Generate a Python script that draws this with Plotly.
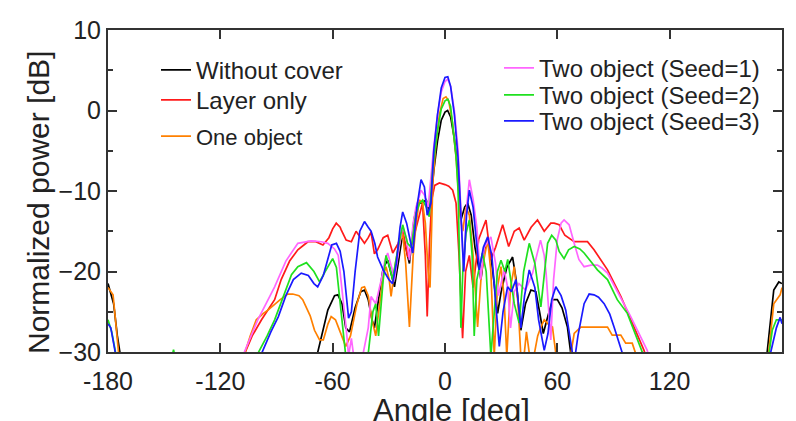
import plotly.graph_objects as go

# ---------------- data (angle [deg], normalized power [dB]) ----------------
without_cover_angle = [-180, -177, -175, -173,
    -70, -68, -65, -62.6, -59, -57.2, -55, -53, -51, -48, -45, -43, -41, -39, -37.7, -35, -33,
    -30.6, -29, -27, -25, -22.6, -20.5, -19, -16.5, -14.6, -12.5, -10, -8.5, -7.5, -6, -4, -2,
    0, 1.4, 3, 5, 7, 8.5, 10.5, 12.1, 14, 16, 19.2, 21, 22.8, 25, 28.1, 30, 31.6, 33, 36.1, 38,
    40.5, 43, 45.9, 48.5, 50.5, 52.5, 55, 57.5, 60, 62.5, 65.4, 67.2, 69,
    170, 172, 174, 175.6, 178.3, 180]
without_cover_db = [-21.5, -24, -28, -31,
    -32, -30, -27, -24.8, -23, -22.9, -24, -27, -27.5, -24.5, -22.5, -22.3, -23.5, -26, -27, -23, -19.5,
    -18.6, -20, -21.9, -19, -15.3, -17.5, -19, -13.5, -11.5, -11.5, -11.1, -12.5, -11, -7.5, -3.8, -1.2,
    -0.2, 0, -0.8, -3.5, -7.8, -13.6, -12, -11.5, -13, -17, -21, -17.5, -16.1, -19, -25.2, -22.5, -21, -19.5, -18.2, -21,
    -27.3, -24, -22.3, -22.5, -25, -27.7, -25.5, -23.5, -23.5, -24.5, -26.9, -30.2, -32,
    -32, -30.2, -26, -22.3, -21.3, -21.5]

layer_only_angle = [-110, -107, -103, -98, -91, -87.5, -83, -78.6, -73.2, -69, -65.2, -62, -60, -58.1,
    -56, -55.5, -52.8, -50, -47.5, -45, -43, -41, -39.5, -37.7, -36, -33, -30.6, -27.9, -25, -22.6,
    -19.9, -17, -14, -12, -10.5, -9.5, -8.2, -7, -5.5, -3, 0, 2, 4.1, 5.9, 7.5, 9.4, 11, 13, 15, 18,
    21.9, 24.5, 27, 30.8, 34, 37, 39.6, 42.3, 46, 49.4, 53, 56.5, 58.3, 61, 64, 69, 73, 76.1, 79.6,
    86.8, 93.9, 101, 106.3, 108]
layer_only_db = [-33, -30.2, -28, -26, -23.5, -21, -18.7, -17.3, -16.3, -16.3, -16.7, -15.8, -14.7, -14.0,
    -14.5, -14.8, -16.1, -16.3, -15, -15.8, -16.5, -15.8, -15.1, -17.8, -17.3, -15.8, -15.5, -17.7, -16.5, -14.8,
    -18.2, -16, -13.2, -11.5, -18, -25.6, -16, -11, -9.3, -9.0, -9.2, -9.4, -9.9, -11.5, -18, -28.3, -20, -18, -22, -16,
    -13.6, -18.5, -17, -14.2, -16.9, -15, -14.6, -16.1, -14.5, -13.6, -15, -14.0, -14, -14.2, -15.5, -16.3, -16.3, -16.3, -17.3,
    -19.8, -23.1, -26.9, -29.8, -31]

one_object_angle = [-180, -177.3, -176, -174,
    -109, -107, -104, -100.8, -97, -94.6, -88, -84, -81.3, -78, -76, -72, -69.7, -67, -65, -62.5,
    -60.8, -58.5, -56, -53, -50.5, -47, -44.5, -43, -41, -39, -37, -35, -33, -31.5, -29.8, -28.8,
    -26.5, -24.5, -22.6, -21, -19, -17, -15.5, -13.7, -12, -10.5, -9, -8, -6.5, -5, -3, -1, 0.5,
    2, 4, 6, 8, 9.5, 11.2, 13, 15, 17.4, 19.5, 22.8, 24.5, 26.3, 28, 29.9, 31.5, 33, 35, 37, 39,
    40.5, 42, 43.5, 45.5, 47.5, 49.5, 51.2, 53, 55, 57.4, 59.2, 61, 65, 67, 69, 72.5, 86.8, 89.3,
    93.9, 96.5, 100, 101.9, 103,
    172, 174, 175.6, 179, 180]
one_object_db = [-22, -22.9, -26, -31,
    -32, -30.2, -28, -26, -25.2, -24.8, -23.5, -22.8, -22.8, -23, -23.5, -25.5, -27.3, -28.5, -28.5, -26.5,
    -25.6, -26, -27.5, -29.3, -28, -24, -22, -21.9, -23, -26, -28, -24, -20.5, -19.4, -21, -23.1,
    -19, -16.5, -15.3, -19, -26.9, -18, -14.2, -11.1, -11.5, -14, -20, -22, -9, -4.5, -0.5, 1.5, 1.7,
    1.2, -1.5, -6, -13, -15, -12, -13, -18, -26.9, -20, -16.1, -20, -30.5, -22, -19.4, -23, -30.5, -22, -19.4, -24,
    -30.5, -31, -27.5, -31, -30.5, -28, -26.9, -26, -26.5, -26.9, -30.2, -31, -31, -30.5, -27.7, -26.9, -26.9, -27.9,
    -27.9, -28.9, -28.9, -30.2, -31,
    -32, -27, -24, -22.9, -22]

seed1_angle = [-110, -107.5, -100, -91, -85, -78.6, -71.5, -66, -62.6, -59, -57, -55, -52.8, -51.5,
    -50, -48.5, -44, -41, -39.5, -37, -34, -32, -30.6, -28.5, -27, -24.5, -22.6, -20.5, -19, -17,
    -15.5, -12.8, -11, -9, -7.5, -6, -4, -2, 0, 1.5, 3, 5, 7, 8.5, 10, 11.5, 13, 15, 17, 19, 21,
    24.5, 27, 28.5, 31.6, 33.5, 35, 37, 39.5, 43, 46.8, 49, 51, 53, 54, 56.5, 58, 60, 62, 63.6,
    66.3, 69, 71.5, 74.3, 78, 81.4, 84, 86.8, 91, 95.6, 99.2, 102.8, 108, 110]
seed1_db = [-33, -30.2, -26, -21.9, -18.7, -16.5, -16.2, -16.3, -16.5, -17.2, -18, -22, -27, -30.5,
    -28.3, -31, -30.5, -27, -23.1, -24, -21, -18.5, -17.7, -19.5, -21, -17, -14.4, -16, -18.6, -14,
    -12, -9.9, -10.5, -12, -8, -4.5, -0.5, 2.3, 3.6, 3.9, 3, 0, -5, -12, -20, -12, -8.6, -11, -14.5, -21, -17,
    -15.7, -19, -23, -19.8, -22, -27, -22.5, -21.5, -22.3, -20.2, -18, -16.1, -18, -20.2, -28.5, -21, -16, -14, -13.6,
    -14.2, -16.5, -18.5, -19.4, -19.2, -19.2, -19.6, -20.2, -22, -24, -25.6, -27.3, -29.8, -31.5]

seed2_angle = [-180, -178, -176, -174,
    -147, -145, -143,
    -102, -100, -95, -91, -86, -82, -78.6, -74, -70, -67, -64, -60, -58, -56, -53, -48, -45, -41,
    -38.5, -37, -35.5, -33, -31.5, -29.5, -28, -25, -22.6, -20, -18, -15.5, -13.5, -11.9, -10,
    -8.4, -6.5, -4, -2, 0, 1.5, 3, 5.9, 7, 8, 8.5, 9.5, 11.2, 13, 14.5, 15.6, 17, 20, 22, 24.5,
    26.5, 28, 29.9, 32, 33.5, 37, 39.6, 42, 45, 48, 51.2, 54.8, 57, 59.2, 61, 63.6, 66, 69, 72,
    74.3, 78, 81.4, 86.8, 92, 97.4, 101, 105.4, 107,
    172, 174.8, 177, 180]
seed2_db = [-26, -27.5, -30, -32,
    -32, -29.7, -32,
    -32, -30.2, -28, -26, -23, -20.4, -19.4, -18.9, -20, -21.3, -20, -18.4, -19.5, -24, -30.5, -31, -30.5, -30.2,
    -25, -24, -28, -21, -18, -19.5, -21, -17, -14.2, -16.5, -17, -12.8, -11.5, -11.1, -12,
    -13.2, -7, -2.5, 0.2, 1.2, 1.4, 0.5, -5.7, -10, -20, -27, -20, -15.3, -13.6, -18, -28, -21, -17.7, -20, -30.5,
    -24, -20, -18.6, -20, -18.5, -24, -26.4, -20, -16.5, -19, -24.4, -16.5, -15.5, -16.1, -17.5, -18.4, -17.3, -16.9, -17.2,
    -17.7, -18.8, -19.8, -21, -23.5, -25.2, -27.3, -29.8, -31,
    -32, -27.3, -26, -26]

seed3_angle = [-180, -178.5, -176, -174,
    -100, -98, -93, -89, -85, -81, -76.8, -73, -70, -68, -65, -62.6, -60.5, -58, -56, -54, -51.5,
    -50, -48, -45.5, -43, -41, -39.5, -37.5, -36, -33, -30, -28, -26, -24, -22.6, -20.5, -17.2,
    -15, -12.8, -11, -9.5, -7.5, -6, -4, -2, 0, 1.5, 3, 5, 7, 8.5, 10, 11.5, 13, 15, 16.5, 18.3,
    20.5, 22.8, 25, 27, 29, 31, 33.4, 35.5, 37.9, 40.5, 42.5, 45, 48, 50, 53, 55, 57, 59.2, 62,
    64.5, 66.5, 68.1, 69.5, 71, 74.3, 77, 79.6, 82, 85, 88, 90.3, 94.8, 96,
    172, 175, 177, 179, 180]
seed3_db = [-26.5, -27, -30.2, -32,
    -32, -30.2, -27.5, -25.6, -23, -21, -20.2, -20.5, -21.5, -21.9, -20.5, -18.6, -16.7, -16.5, -17.5, -20, -25.8,
    -25, -20, -15, -13.8, -14.5, -15, -16.5, -18.2, -19.8, -21, -21.5, -19, -14.5, -12.6, -14, -17.7,
    -12, -8.6, -9.5, -13, -11.5, -5, -0.5, 2.8, 4.1, 4.2, 3, -0.5, -6, -13, -20, -13, -9.9, -12, -16, -19.8,
    -17, -15.7, -18, -24, -29.3, -25, -21.9, -22.5, -21, -27, -23, -19.8, -22, -26, -29.8, -27.7, -23.5, -21.9, -23,
    -24.8, -28, -30.2, -30.5, -28, -24, -22.8, -22.9, -23.2, -24, -25.3, -26.9, -30.2, -31.5,
    -32, -29, -27, -25.7, -26.5]

x_tick_vals = [-180, -120, -60, 0, 60, 120, 180]
x_tick_text = ["-180", "-120", "-60", "0", "60", "120", "180"]
y_tick_vals = [-30, -20, -10, 0, 10]
x_title = "Angle [deg]"
y_title = "Normalized power [dB]"

series = [
    ("Without cover", without_cover_angle, without_cover_db, "#000000"),
    ("Layer only", layer_only_angle, layer_only_db, "#ff1a1a"),
    ("One object", one_object_angle, one_object_db, "#ff8000"),
    ("Two object (Seed=1)", seed1_angle, seed1_db, "#ff66ff"),
    ("Two object (Seed=2)", seed2_angle, seed2_db, "#1fe01f"),
    ("Two object (Seed=3)", seed3_angle, seed3_db, "#1a1aff"),
]

# The page body has an 8px margin, so the figure is drawn 8px in from the window corner.
OFF = 8
W, H = 796 - OFF, 421 - OFF
# plot area in window pixels
PLOT_L, PLOT_R, PLOT_T, PLOT_B = 108, 782, 30, 352
PW, PH = PLOT_R - PLOT_L, PLOT_B - PLOT_T
# legend entries: (left edge px, row-centre px, font size), window pixels
leg_place = [(156, 72, 24), (156, 102, 24), (156, 137, 22),
             (499, 70, 24), (499, 97, 24), (499, 123, 24)]
FONT = "Liberation Sans, Arial, sans-serif"

fig = go.Figure()
layout_legends = {}
for i, ((name, xs, ys, col), (lx, ly, fs)) in enumerate(zip(series, leg_place)):
    key = "legend" if i == 0 else f"legend{i + 1}"
    fig.add_trace(go.Scatter(x=xs, y=ys, mode="lines", name=name, showlegend=True,
                             line=dict(color=col, width=1.7), legend=key))
    top = ly - 1.3 * fs + 7
    layout_legends[key] = dict(
        x=(lx - PLOT_L) / PW, y=(PLOT_B - top) / PH,
        xanchor="left", yanchor="top", bgcolor="rgba(0,0,0,0)", borderwidth=0,
        font=dict(family=FONT, size=fs, color="#222"))

fig.update_layout(
    width=W, height=H, showlegend=True,
    margin=dict(l=PLOT_L - OFF, r=W - (PLOT_R - OFF), t=PLOT_T - OFF, b=H - (PLOT_B - OFF),
                autoexpand=False),
    paper_bgcolor="white", plot_bgcolor="white",
    font=dict(family=FONT, color="#222"),
    annotations=[
        dict(text=y_title, textangle=-90, showarrow=False,
             xref="paper", yref="paper", xanchor="center", yanchor="middle",
             x=(38 - PLOT_L) / PW, y=(PLOT_B - 203) / PH,
             font=dict(family=FONT, size=30, color="#222")),
        dict(text=x_title, showarrow=False,
             xref="paper", yref="paper", xanchor="center", yanchor="top",
             x=(451 - PLOT_L) / PW, y=(PLOT_B - 391) / PH,
             font=dict(family=FONT, size=31, color="#222")),
    ],
    **layout_legends,
)
fig.update_xaxes(range=[-180, 180], tickvals=x_tick_vals, ticktext=x_tick_text,
                 ticks="inside", ticklen=9, tickwidth=1.5, tickcolor="#333",
                 showline=True, linewidth=2, linecolor="#333", mirror="ticks",
                 showgrid=False, zeroline=False, automargin=False, ticklabelstandoff=6,
                 tickfont=dict(family=FONT, size=25, color="#222"))
fig.update_yaxes(range=[-30, 10], tickvals=y_tick_vals,
                 ticks="inside", ticklen=9, tickwidth=1.5, tickcolor="#333",
                 minor=dict(ticks="inside", ticklen=5, tickwidth=1.5, tickcolor="#333", dtick=5),
                 showline=True, linewidth=2, linecolor="#333", mirror="ticks",
                 showgrid=False, zeroline=False, automargin=False,
                 tickfont=dict(family=FONT, size=25, color="#222"))

fig.write_html("out.html")
